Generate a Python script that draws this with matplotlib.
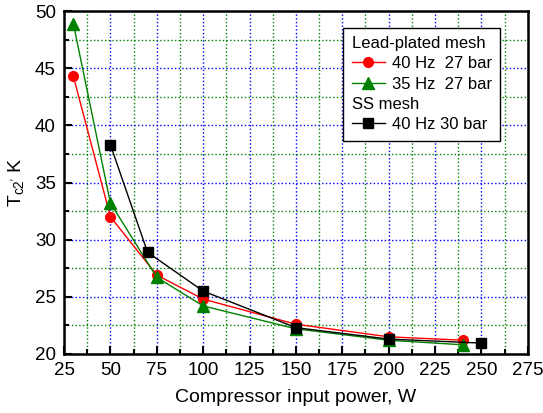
import matplotlib
matplotlib.use("Agg")
import matplotlib.pyplot as plt
from matplotlib.ticker import MultipleLocator

plt.rcParams['font.family'] = ['Liberation Sans', 'DejaVu Sans']
plt.rcParams['mathtext.fontset'] = 'custom'
plt.rcParams['mathtext.rm'] = 'Liberation Sans'
plt.rcParams['mathtext.it'] = 'Liberation Sans'

# Lead-plated mesh, 40 Hz 27 bar
x_red = [30, 50, 75, 100, 150, 200, 240]
y_red = [44.3, 32.0, 26.9, 24.8, 22.6, 21.5, 21.2]
# Lead-plated mesh, 35 Hz 27 bar
x_green = [30, 50, 75, 100, 150, 200, 240]
y_green = [48.9, 33.2, 26.7, 24.2, 22.2, 21.2, 20.8]
# SS mesh, 40 Hz 30 bar
x_black = [50, 70, 100, 150, 200, 250]
y_black = [38.3, 28.9, 25.5, 22.3, 21.3, 20.95]

fig = plt.figure(figsize=(5.43, 4.13), dpi=100)
ax = fig.add_axes([0.118, 0.143, 0.854, 0.830])

ax.plot(x_red, y_red, color='red', lw=1, marker='o', ms=7, label='40 Hz  27 bar', zorder=3)
ax.plot(x_green, y_green, color='green', lw=1, marker='^', ms=8, label='35 Hz  27 bar', zorder=3)
ax.plot(x_black, y_black, color='black', lw=1, marker='s', ms=6.5, label='40 Hz 30 bar', zorder=3)

ax.set_xlim(25, 275)
ax.set_ylim(20, 50)
ax.xaxis.set_major_locator(MultipleLocator(25))
ax.xaxis.set_minor_locator(MultipleLocator(12.5))
ax.yaxis.set_major_locator(MultipleLocator(5))
ax.yaxis.set_minor_locator(MultipleLocator(2.5))
ax.tick_params(which='both', direction='in', labelsize=13.5, width=1.5, pad=6)
ax.tick_params(which='major', length=6)
ax.tick_params(which='minor', length=3.5)
ax.grid(which='major', color='blue', ls=':', lw=1)
ax.grid(which='minor', color='green', ls=':', lw=1)
ax.set_axisbelow(True)
for s in ax.spines.values():
    s.set_linewidth(1.8)

ax.set_xlabel('Compressor input power, W', fontsize=14, labelpad=7)
ax.set_ylabel("T$_{\\mathrm{c2'}}$ K", fontsize=14, labelpad=6)

h, l = ax.get_legend_handles_labels()
blank = plt.Line2D([], [], linestyle='none')
handles = [blank, h[0], h[1], blank, h[2]]
labels = ['Lead-plated mesh', l[0], l[1], 'SS mesh', l[2]]
leg = ax.legend(handles, labels, loc='upper right', bbox_to_anchor=(0.94, 0.952),
                fontsize=12, frameon=True, fancybox=False, edgecolor='black',
                framealpha=1, handlelength=2.0, handletextpad=0.4,
                labelspacing=0.32, borderpad=0.5, borderaxespad=0)
leg.get_frame().set_linewidth(1)
for i, hp in enumerate(leg._legend_handle_box.get_children()[0].get_children()):
    if labels[i] in ('Lead-plated mesh', 'SS mesh'):
        da = hp.get_children()[0]
        da.set_width(0)
        hp.sep = 0

fig.savefig('out.png', dpi=100)
